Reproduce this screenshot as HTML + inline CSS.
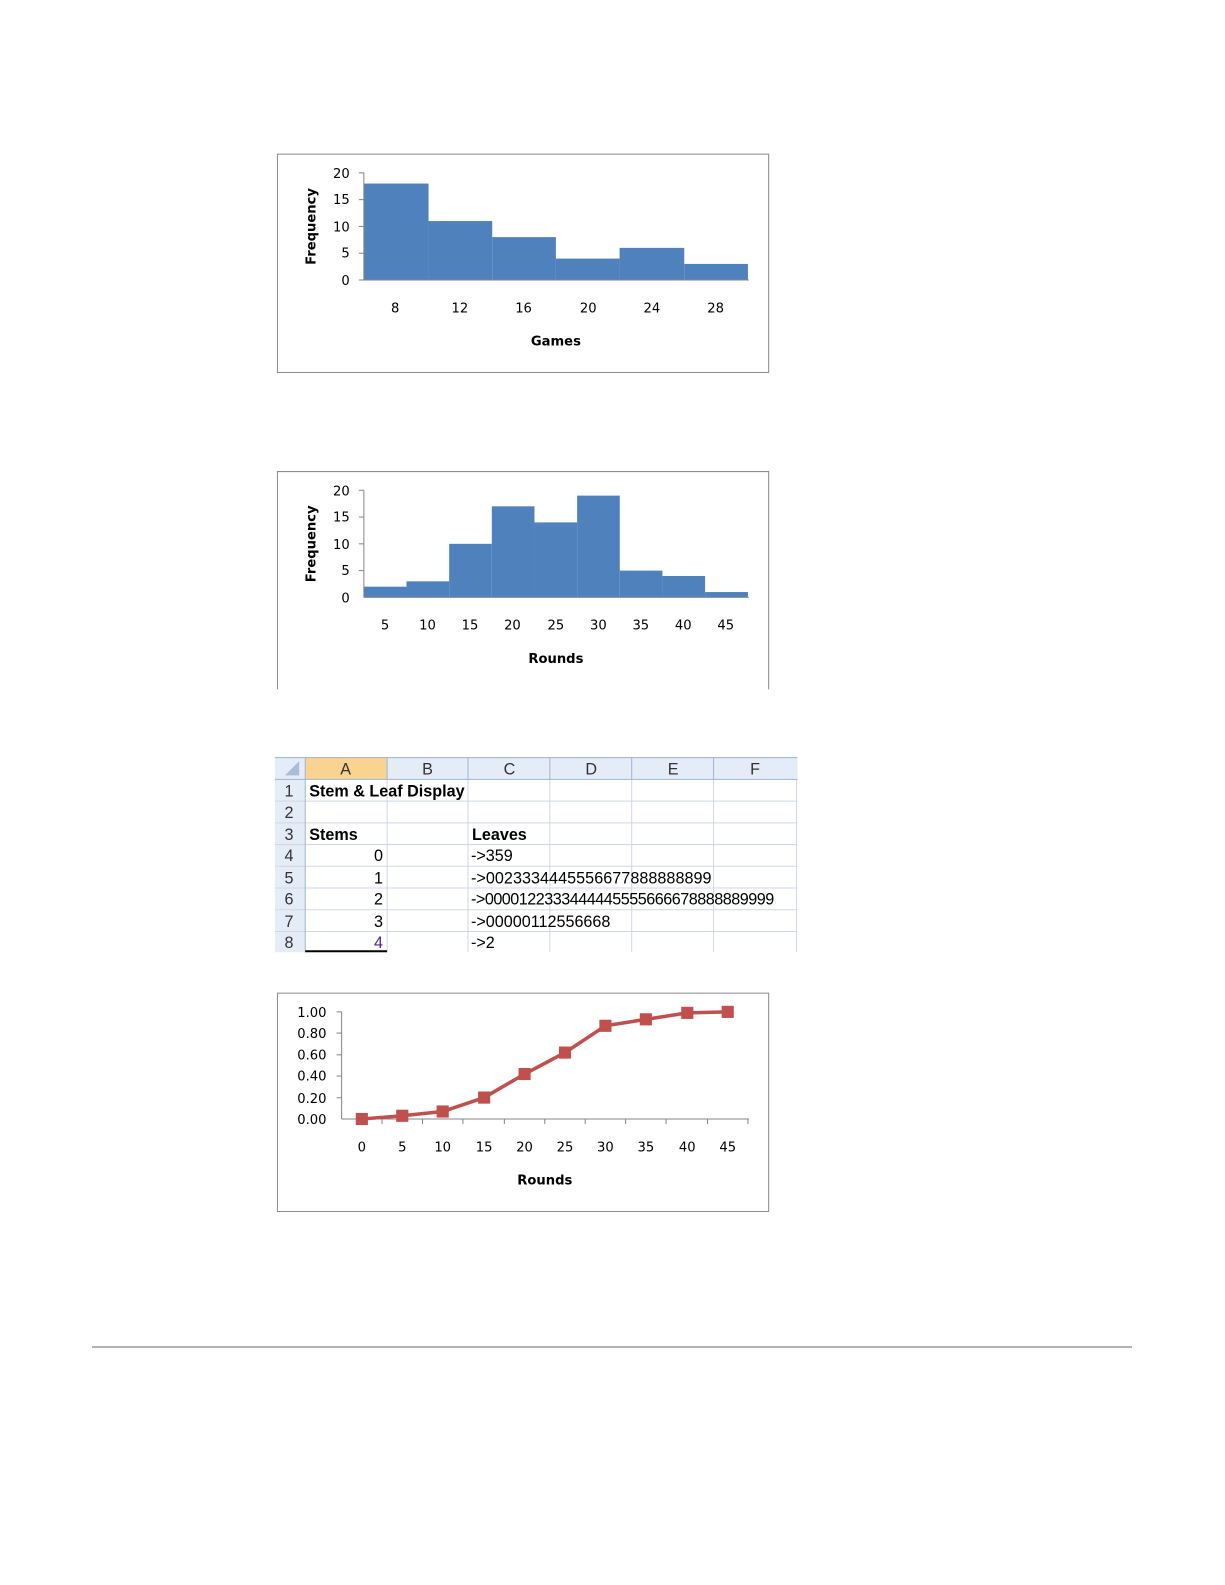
<!DOCTYPE html>
<html><head><style>
body{margin:0;background:#fff;width:1225px;height:1585px;position:relative;overflow:hidden;font-family:"Liberation Sans",sans-serif}
svg{position:absolute;left:0;top:0}
</style></head><body>
<svg width="1225" height="1585" viewBox="0 0 1212 1568" preserveAspectRatio="none" font-family="DejaVu Sans, Liberation Sans, sans-serif">
<!-- Chart 1 -->
<rect x="274.5" y="152.5" width="486" height="216" fill="#fff" stroke="#8c8c8c"/>
<g fill="#4f81bd">
<rect x="360" y="181.6" width="64" height="95.4"/>
<rect x="424" y="218.7" width="63" height="58.3"/>
<rect x="487" y="234.6" width="63" height="42.4"/>
<rect x="550" y="255.8" width="63" height="21.2"/>
<rect x="613" y="245.2" width="64" height="31.8"/>
<rect x="677" y="261.1" width="63" height="15.9"/>
</g>
<g stroke="#868686"><line x1="360" y1="171" x2="360" y2="277"/><line x1="360" y1="277" x2="741" y2="277"/>
<line x1="355" y1="171" x2="360" y2="171"/><line x1="355" y1="197.5" x2="360" y2="197.5"/><line x1="355" y1="224" x2="360" y2="224"/><line x1="355" y1="250.5" x2="360" y2="250.5"/><line x1="355" y1="277" x2="360" y2="277"/></g>
<g font-size="13" fill="#000" text-anchor="end"><text x="346" y="176">20</text><text x="346" y="202">15</text><text x="346" y="229">10</text><text x="346" y="255">5</text><text x="346" y="282">0</text></g>
<g font-size="13" text-anchor="middle"><text x="391" y="309">8</text><text x="455" y="309">12</text><text x="518" y="309">16</text><text x="582" y="309">20</text><text x="645" y="309">24</text><text x="708" y="309">28</text>
<text x="550" y="342" font-weight="bold">Games</text>
<text transform="translate(312,224) rotate(-90)" font-weight="bold">Frequency</text></g>
<!-- Chart 2 -->
<path d="M274.5,682 V466.5 H760.5 V682" fill="#fff" stroke="#8c8c8c"/>
<g fill="#4f81bd">
<rect x="360" y="580.4" width="42.2" height="10.6"/>
<rect x="402.2" y="575.1" width="42.2" height="15.9"/>
<rect x="444.4" y="538" width="42.2" height="53"/>
<rect x="486.6" y="500.9" width="42.2" height="90.1"/>
<rect x="528.8" y="516.8" width="42.2" height="74.2"/>
<rect x="571" y="490.3" width="42.2" height="100.7"/>
<rect x="613.2" y="564.5" width="42.2" height="26.5"/>
<rect x="655.4" y="569.8" width="42.2" height="21.2"/>
<rect x="697.6" y="585.7" width="42.4" height="5.3"/>
</g>
<g stroke="#868686"><line x1="360" y1="485" x2="360" y2="591"/><line x1="360" y1="591" x2="741" y2="591"/>
<line x1="355" y1="485" x2="360" y2="485"/><line x1="355" y1="511.5" x2="360" y2="511.5"/><line x1="355" y1="538" x2="360" y2="538"/><line x1="355" y1="564.5" x2="360" y2="564.5"/></g>
<g font-size="13" text-anchor="end"><text x="346" y="490">20</text><text x="346" y="516">15</text><text x="346" y="543">10</text><text x="346" y="569">5</text><text x="346" y="596">0</text></g>
<g font-size="13" text-anchor="middle"><text x="381" y="623">5</text><text x="423" y="623">10</text><text x="465" y="623">15</text><text x="507" y="623">20</text><text x="550" y="623">25</text><text x="592" y="623">30</text><text x="634" y="623">35</text><text x="676" y="623">40</text><text x="718" y="623">45</text>
<text x="550" y="656" font-weight="bold">Rounds</text>
<text transform="translate(312,538) rotate(-90)" font-weight="bold">Frequency</text></g>
<!-- Spreadsheet -->
<rect x="272" y="749" width="517" height="22" fill="#e4ecf7"/>
<rect x="302" y="749" width="81" height="22" fill="#f9d38f"/>
<rect x="272" y="771" width="30" height="171" fill="#e4ecf7"/>
<g stroke="#d0d7e5">
<line x1="272" y1="792.5" x2="789" y2="792.5"/><line x1="272" y1="814" x2="789" y2="814"/><line x1="272" y1="835.5" x2="789" y2="835.5"/><line x1="272" y1="857" x2="789" y2="857"/><line x1="272" y1="878.5" x2="789" y2="878.5"/><line x1="272" y1="900" x2="789" y2="900"/><line x1="272" y1="921.5" x2="789" y2="921.5"/>
<line x1="383" y1="771" x2="383" y2="942"/><line x1="463" y1="771" x2="463" y2="942"/><line x1="544" y1="771" x2="544" y2="942"/><line x1="625" y1="771" x2="625" y2="942"/><line x1="706" y1="771" x2="706" y2="942"/><line x1="788" y1="771" x2="788" y2="942"/>
</g>
<g stroke="#9eb6ce"><line x1="272" y1="749.5" x2="789" y2="749.5"/><line x1="272" y1="771" x2="789" y2="771"/><line x1="302" y1="749" x2="302" y2="942"/>
<line x1="383" y1="749" x2="383" y2="771"/><line x1="463" y1="749" x2="463" y2="771"/><line x1="544" y1="749" x2="544" y2="771"/><line x1="625" y1="749" x2="625" y2="771"/><line x1="706" y1="749" x2="706" y2="771"/></g>
<line x1="302" y1="941" x2="383" y2="941" stroke="#000" stroke-width="2"/>
<polygon points="296,753 296,767 282,767" fill="#a9bdd6"/>
<g font-family="Liberation Sans, sans-serif" font-size="16" fill="#333" text-anchor="middle"><text x="342" y="766">A</text><text x="423" y="766">B</text><text x="504" y="766">C</text><text x="585" y="766">D</text><text x="666" y="766">E</text><text x="747" y="766">F</text>
<text x="286" y="788">1</text><text x="286" y="809">2</text><text x="286" y="831">3</text><text x="286" y="852">4</text><text x="286" y="874">5</text><text x="286" y="895">6</text><text x="286" y="917">7</text><text x="286" y="938">8</text></g>
<g font-family="Liberation Sans, sans-serif" font-size="16" fill="#000">
<text x="306" y="788" font-weight="bold">Stem &amp; Leaf Display</text>
<text x="306" y="831" font-weight="bold">Stems</text><text x="467" y="831" font-weight="bold">Leaves</text>
<text x="379" y="852" text-anchor="end">0</text><text x="379" y="874" text-anchor="end">1</text><text x="379" y="895" text-anchor="end">2</text><text x="379" y="917" text-anchor="end">3</text><text x="379" y="938" text-anchor="end" fill="#5020a0">4</text>
<text x="466" y="852">-&gt;359</text><text x="466" y="874" textLength="238">-&gt;0023334445556677888888899</text><text x="466" y="895" textLength="300">-&gt;0000122333444445555666678888889999</text><text x="466" y="917">-&gt;00000112556668</text><text x="466" y="938">-&gt;2</text></g>
<!-- Chart 4 -->
<rect x="274.5" y="982.5" width="486" height="216" fill="#fff" stroke="#8c8c8c"/>
<g stroke="#868686"><line x1="338" y1="1001" x2="338" y2="1107"/><line x1="338" y1="1107" x2="741" y2="1107"/>
<line x1="333" y1="1001" x2="338" y2="1001"/><line x1="333" y1="1022" x2="338" y2="1022"/><line x1="333" y1="1043.5" x2="338" y2="1043.5"/><line x1="333" y1="1064.5" x2="338" y2="1064.5"/><line x1="333" y1="1086" x2="338" y2="1086"/>
<line x1="378" y1="1107" x2="378" y2="1112"/><line x1="418" y1="1107" x2="418" y2="1112"/><line x1="458" y1="1107" x2="458" y2="1112"/><line x1="499" y1="1107" x2="499" y2="1112"/><line x1="539" y1="1107" x2="539" y2="1112"/><line x1="579" y1="1107" x2="579" y2="1112"/><line x1="619" y1="1107" x2="619" y2="1112"/><line x1="659" y1="1107" x2="659" y2="1112"/><line x1="700" y1="1107" x2="700" y2="1112"/><line x1="740" y1="1107" x2="740" y2="1112"/></g>
<g font-size="13" text-anchor="end"><text x="323" y="1006">1.00</text><text x="323" y="1027">0.80</text><text x="323" y="1048">0.60</text><text x="323" y="1069">0.40</text><text x="323" y="1091">0.20</text><text x="323" y="1112">0.00</text></g>
<g font-size="13" text-anchor="middle"><text x="358" y="1139">0</text><text x="398" y="1139">5</text><text x="438" y="1139">10</text><text x="479" y="1139">15</text><text x="519" y="1139">20</text><text x="559" y="1139">25</text><text x="599" y="1139">30</text><text x="639" y="1139">35</text><text x="680" y="1139">40</text><text x="720" y="1139">45</text>
<text x="539" y="1172" font-weight="bold">Rounds</text></g>
<polyline fill="none" stroke="#c0504d" stroke-width="3.5" points="358,1107 398,1103.8 438,1099.6 479,1085.8 519,1062.5 559,1041.3 599,1014.8 639,1008.4 680,1002 720,1001"/>
<g fill="#c0504d"><rect x="352" y="1101" width="12" height="12"/><rect x="392" y="1097.8" width="12" height="12"/><rect x="432" y="1093.6" width="12" height="12"/><rect x="473" y="1079.8" width="12" height="12"/><rect x="513" y="1056.5" width="12" height="12"/><rect x="553" y="1035.3" width="12" height="12"/><rect x="593" y="1008.8" width="12" height="12"/><rect x="633" y="1002.4" width="12" height="12"/><rect x="674" y="996" width="12" height="12"/><rect x="714" y="995" width="12" height="12"/></g>
<line x1="91" y1="1332.5" x2="1120" y2="1332.5" stroke="#999" stroke-width="1.5"/>
</svg>
</body></html>
